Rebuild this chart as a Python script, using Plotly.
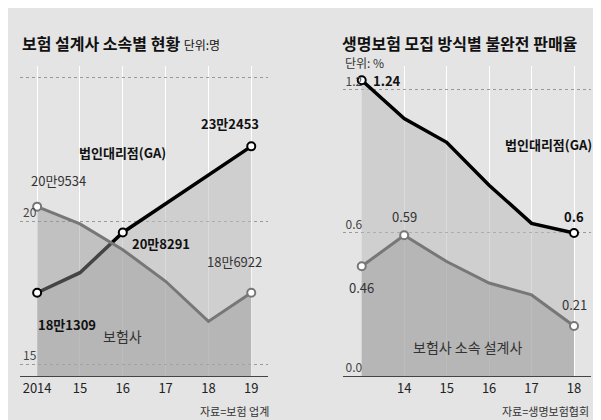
import plotly.graph_objects as go
from plotly.subplots import make_subplots

# left panel: 보험 설계사 소속별 현황 (단위: 만명, positions)
years_l = [2014, 2015, 2016, 2017, 2018, 2019]
ga_l = [17.5, 18.2, 19.6, 20.6, 21.6, 22.6]
ins_l = [20.5, 19.9, 19.0, 17.9, 16.5, 17.5]

# right panel: 생명보험 모집 방식별 불완전 판매율 (%)
years_r = [2013, 2014, 2015, 2016, 2017, 2018]
ga_r = [1.24, 1.08, 0.98, 0.80, 0.64, 0.60]
ins_r = [0.46, 0.59, 0.48, 0.39, 0.34, 0.21]

FONT = "Noto Sans CJK KR"
fig = make_subplots(rows=1, cols=2, horizontal_spacing=0.13)

def add_panel(x, ga, ins, col):
    fig.add_trace(go.Scatter(x=x, y=ga, fill="tozeroy", fillcolor="rgba(190,190,190,0.55)",
                             line=dict(color="black", width=3.5), mode="lines"), row=1, col=col)
    fig.add_trace(go.Scatter(x=x, y=ins, fill="tozeroy", fillcolor="rgba(150,150,150,0.45)",
                             line=dict(color="#777", width=3), mode="lines"), row=1, col=col)
    ends = [0, len(x) - 1]
    fig.add_trace(go.Scatter(x=[x[i] for i in ends], y=[ga[i] for i in ends], mode="markers",
                             marker=dict(color="white", size=8, line=dict(color="black", width=2))),
                  row=1, col=col)
    fig.add_trace(go.Scatter(x=[x[i] for i in ends], y=[ins[i] for i in ends], mode="markers",
                             marker=dict(color="white", size=8, line=dict(color="#777", width=2))),
                  row=1, col=col)

add_panel(years_l, ga_l, ins_l, 1)
add_panel(years_r, ga_r, ins_r, 2)
fig.add_trace(go.Scatter(x=[2016], y=[ga_l[2]], mode="markers",
                         marker=dict(color="white", size=8, line=dict(color="black", width=2))), row=1, col=1)
fig.add_trace(go.Scatter(x=[2014], y=[ins_r[1]], mode="markers",
                         marker=dict(color="white", size=8, line=dict(color="#777", width=2))), row=1, col=2)

fig.update_xaxes(tickvals=years_l, ticktext=["2014", "15", "16", "17", "18", "19"],
                 range=[2013.6, 2019.4], row=1, col=1)
fig.update_xaxes(tickvals=years_r, ticktext=["2013", "14", "15", "16", "17", "18"],
                 range=[2012.55, 2018.4], row=1, col=2)
fig.update_xaxes(showgrid=True, gridcolor="white", gridwidth=1, showline=True, linecolor="#444",
                 ticks="", tickfont=dict(size=13, color="#222"))
fig.update_yaxes(range=[14.6, 25.4], tickvals=[15, 20, 25], row=1, col=1)
fig.update_yaxes(range=[0, 1.3], tickvals=[0, 0.6, 1.2], ticktext=["0.0", "0.6", "1.2"], row=1, col=2)
fig.update_yaxes(showgrid=True, gridcolor="#999", griddash="dot", zeroline=False,
                 tickfont=dict(size=12, color="#444"), ticklabelposition="inside top")

def note(text, x, y, ref, size=13, bold=False, color="#111", xanchor="center"):
    fig.add_annotation(x=x, y=y, xref=ref[0], yref=ref[1], text=f"<b>{text}</b>" if bold else text,
                       showarrow=False, font=dict(size=size, color=color, family=FONT), xanchor=xanchor)

L, R = ("x", "y"), ("x2", "y2")
note("18만1309", 2014.7, 16.4, L, bold=True)
note("20만8291", 2016.9, 19.2, L, bold=True)
note("23만2453", 2018.5, 23.4, L, bold=True)
note("법인대리점(GA)", 2016.0, 22.4, L, bold=True)
note("20만9534", 2014.5, 21.4, L, color="#333")
note("18만6922", 2018.6, 18.6, L, color="#333")
note("보험사", 2016.0, 16.0, L, size=14, color="#333")
note("1.24", 2013.6, 1.24, R, bold=True)
note("법인대리점(GA)", 2017.4, 0.97, R, bold=True)
note("0.6", 2018.0, 0.67, R, bold=True)
note("0.46", 2013.0, 0.37, R, color="#333")
note("0.59", 2014.0, 0.67, R, color="#333")
note("0.21", 2018.0, 0.3, R, color="#333")
note("보험사 소속 설계사", 2015.5, 0.12, R, size=14, color="#333")

fig.add_annotation(x=0.0, y=1.12, xref="paper", yref="paper", xanchor="left", showarrow=False,
                   text="<b>보험 설계사 소속별 현황</b> <span style='font-size:12px'>단위:명</span>",
                   font=dict(size=16, family=FONT, color="#111"))
fig.add_annotation(x=0.56, y=1.12, xref="paper", yref="paper", xanchor="left", showarrow=False,
                   text="<b>생명보험 모집 방식별 불완전 판매율</b>",
                   font=dict(size=16, family=FONT, color="#111"))
fig.add_annotation(x=0.565, y=1.045, xref="paper", yref="paper", xanchor="left", showarrow=False,
                   text="단위: %", font=dict(size=12, family=FONT, color="#333"))
fig.add_annotation(x=0.44, y=-0.08, xref="paper", yref="paper", xanchor="right", yanchor="top",
                   showarrow=False, text="자료=보험 업계", font=dict(size=11, family=FONT, color="#333"))
fig.add_annotation(x=1.0, y=-0.08, xref="paper", yref="paper", xanchor="right", yanchor="top",
                   showarrow=False, text="자료=생명보험협회", font=dict(size=11, family=FONT, color="#333"))

fig.update_layout(width=601, height=420, showlegend=False, paper_bgcolor="#e4e4e4",
                  plot_bgcolor="#e4e4e4", margin=dict(l=12, r=18, t=58, b=52),
                  font=dict(family=FONT))
fig.write_html("out.html")
